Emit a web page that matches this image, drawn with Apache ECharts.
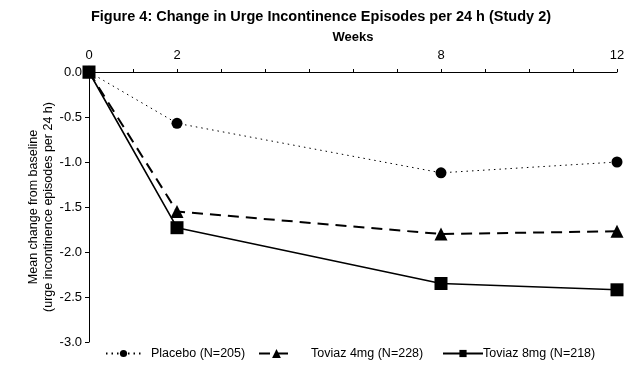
<!DOCTYPE html>
<html><head><meta charset="utf-8">
<script src="https://cdn.jsdelivr.net/npm/echarts@6/dist/echarts.min.js"></script>
<style>html,body{margin:0;padding:0;background:#fff}#c{width:633px;height:365px}</style>
</head><body><div id="c"></div>
<script>
const weeks = [0, 2, 8, 12];
const placebo = [0, -0.57, -1.12, -1.0];
const toviaz4 = [0, -1.55, -1.80, -1.77];
const toviaz8 = [0, -1.73, -2.35, -2.42];
const seriesNames = ['Placebo (N=205)', 'Toviaz 4mg (N=228)', 'Toviaz 8mg (N=218)'];
const xLabels = [0, 2, 8, 12];

const F = 'Liberation Sans, Arial, sans-serif';
const pairs = a => weeks.map((w, i) => [w, a[i]]);
const chart = echarts.init(document.getElementById('c'));
const legTxt = p => ({fontFamily: F, fontSize: 12.5, color: '#000', padding: p});
chart.setOption({
  animation: false,
  backgroundColor: '#fff',
  title: {text: 'Figure 4: Change in Urge Incontinence Episodes per 24 h (Study 2)', left: 316, textAlign: 'center', top: 4,
    textStyle: {fontFamily: F, fontSize: 14.5, fontWeight: 'bold', color: '#000'}},
  grid: {left: 89, right: 16, top: 72, bottom: 23},
  legend: [
    {data: [seriesNames[0]], left: 105, top: 347, padding: 0, itemWidth: 35, itemHeight: 9, textStyle: legTxt([0,0,0,5])},
    {data: [seriesNames[1]], left: 258, top: 347, padding: 0, itemWidth: 35, itemHeight: 11, textStyle: legTxt([0,0,0,12])},
    {data: [seriesNames[2]], left: 442, top: 347, padding: 0, itemWidth: 40, itemHeight: 9, textStyle: legTxt([0,0,0,-5])}
  ],
  xAxis: {type: 'value', position: 'top', min: 0, max: 12, interval: 1,
    name: 'Weeks', nameLocation: 'middle', nameGap: 35, nameMoveOverlap: false,
    nameTextStyle: {fontFamily: F, fontSize: 13, fontWeight: 'bold', color: '#000', verticalAlign: 'middle'},
    axisLine: {lineStyle: {color: '#000', width: 1}},
    axisTick: {length: 3, lineStyle: {color: '#000'}},
    splitLine: {show: false},
    axisLabel: {fontFamily: F, fontSize: 13, color: '#000', margin: 10,
      formatter: v => xLabels.includes(v) ? String(v) : ''}},
  yAxis: {type: 'value', min: -3, max: 0, interval: 0.5,
    name: 'Mean change from baseline\n(urge incontinence episodes per 24 h)', nameLocation: 'middle', nameGap: 48, nameRotate: 90,
    nameMoveOverlap: false,
    nameTextStyle: {fontFamily: F, fontSize: 12.5, color: '#000', lineHeight: 15, verticalAlign: 'middle'},
    axisLine: {show: true, lineStyle: {color: '#000', width: 1}},
    axisTick: {show: true, length: 4, lineStyle: {color: '#000'}},
    splitLine: {show: false},
    axisLabel: {fontFamily: F, fontSize: 13, color: '#000', margin: 7, formatter: v => v.toFixed(1)}},
  series: [
    {name: seriesNames[0], type: 'line', data: pairs(placebo), symbol: 'circle', symbolSize: 11,
      lineStyle: {color: '#000', width: 1, type: [1.5, 4]}, itemStyle: {color: '#000'}, z: 2},
    {name: seriesNames[1], type: 'line', data: pairs(toviaz4), symbol: 'triangle', symbolSize: 13,
      lineStyle: {color: '#000', width: 2, type: [11, 7]}, itemStyle: {color: '#000'}, z: 3},
    {name: seriesNames[2], type: 'line', data: pairs(toviaz8), symbol: 'rect', symbolSize: 13,
      lineStyle: {color: '#000', width: 1.6}, itemStyle: {color: '#000'}, z: 4}
  ]
});
</script></body></html>
